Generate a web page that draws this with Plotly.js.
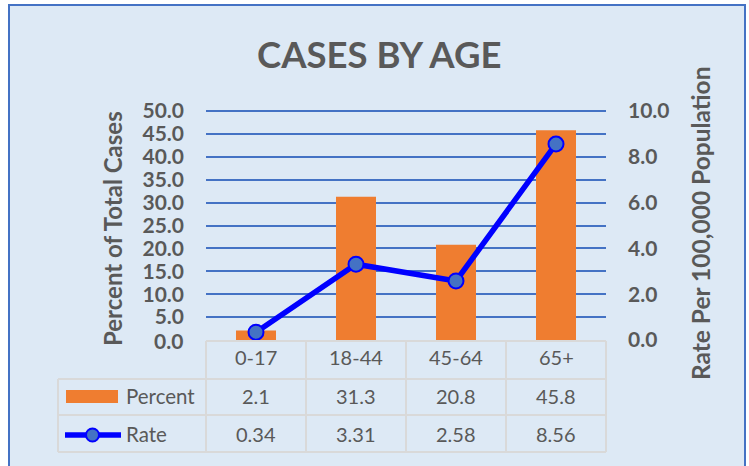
<!DOCTYPE html>
<html><head><meta charset="utf-8">
<script src="https://cdn.plot.ly/plotly-3.0.1.min.js"></script>
<style>html,body{margin:0;padding:0;background:#fff}#c{width:749px;height:466px}</style>
</head><body><div id="c"></div>
<script>
const categories = ['0-17', '18-44', '45-64', '65+'];
const percentValues = [2.1, 31.3, 20.8, 45.8];
const rateValues = [0.34, 3.31, 2.58, 8.56];
const rateLabels = ['0.34', '3.31', '2.58', '8.56'];
const leftTicks = [0, 5, 10, 15, 20, 25, 30, 35, 40, 45, 50];
const rightTicks = [0, 2, 4, 6, 8, 10];

const W = 749, H = 466, L = 206, R = 606, T = 111, B = 340;
const px = x => (x - L) / (R - L);
const py = y => (B - y) / (B - T);
const gray = '#595959', grid = '#d9d9d9';
const font = 'Lato, sans-serif';

const traces = [
  {type: 'bar', x: [0,1,2,3], y: percentValues, width: 0.4, name: 'Percent',
   marker: {color: '#ef7d30', line: {width: 0}}, yaxis: 'y', hoverinfo: 'skip'},
  {type: 'scatter', mode: 'lines+markers', x: [0,1,2,3], y: rateValues, yaxis: 'y2', name: 'Rate',
   line: {color: '#0000ff', width: 5.5},
   marker: {size: 15, color: '#4472c4', line: {color: '#0000ff', width: 2}}, hoverinfo: 'skip'}
];

const shapes = [
  {type: 'rect', xref: 'paper', yref: 'paper', x0: px(9), x1: px(745), y0: py(470), y1: py(5),
   fillcolor: '#dde9f5', line: {color: '#4472c4', width: 2}, layer: 'below'},
  // top gridline (at the plot edge, drawn unclipped)
  {type: 'line', xref: 'paper', yref: 'paper', x0: 0, x1: 1, y0: 1, y1: 1,
   line: {color: '#4472c4', width: 2}, layer: 'below'}
];
function hl(x0, x1, y) { shapes.push({type: 'line', xref: 'paper', yref: 'paper', x0: px(x0), x1: px(x1), y0: py(y), y1: py(y), line: {color: grid, width: 2}}); }
function vl(x, y0, y1) { shapes.push({type: 'line', xref: 'paper', yref: 'paper', x0: px(x), x1: px(x), y0: py(y0), y1: py(y1), line: {color: grid, width: 2}}); }
hl(206, 606, 341); hl(58, 606, 379); hl(58, 606, 415); hl(58, 606, 452);
[206, 306, 406, 506, 606].forEach(x => vl(x, 341, 452));
vl(58, 379, 452);
// legend keys
shapes.push({type: 'rect', xref: 'paper', yref: 'paper', x0: px(66), x1: px(118), y0: py(403), y1: py(390), fillcolor: '#ef7d30', line: {width: 0}});
shapes.push({type: 'line', xref: 'paper', yref: 'paper', x0: px(65), x1: px(121), y0: py(435), y1: py(435), line: {color: '#0000ff', width: 5.5}});
shapes.push({type: 'circle', xref: 'paper', yref: 'paper', x0: px(86), x1: px(99), y0: py(441.5), y1: py(428.5), fillcolor: '#4472c4', line: {color: '#0000ff', width: 2}});

const ann = [];
function txt(x, y, text, size, opts) {
  ann.push(Object.assign({xref: 'paper', yref: 'paper', x: px(x), y: py(y), text: text, showarrow: false,
    font: {family: font, size: size, color: gray}, xanchor: 'center', yanchor: 'middle'}, opts || {}));
}
txt(379, 54, '<b>CASES BY AGE</b>', 36.5);
txt(112, 229, '<b>Percent of Total Cases</b>', 24, {textangle: -90});
txt(700, 224, '<b>Rate Per 100,000 Population</b>', 24.5, {textangle: -90});
categories.forEach((c, i) => {
  txt(256 + 100 * i, 357, c, 20);
  txt(256 + 100 * i, 396, percentValues[i].toFixed(1), 20);
  txt(256 + 100 * i, 434, rateLabels[i], 20);
});
txt(124, 396, 'Percent', 20.5, {xanchor: 'left'});
txt(124, 434, 'Rate', 20.5, {xanchor: 'left'});
txt(185, 340, '<b>0.0</b>', 21, {xanchor: 'right'});

const layout = {
  width: W, height: H, margin: {l: L, r: W - R, t: T, b: H - B, pad: 0},
  paper_bgcolor: '#ffffff', plot_bgcolor: 'rgba(0,0,0,0)', showlegend: false,
  xaxis: {range: [-0.5, 3.5], showticklabels: false, showgrid: false, zeroline: false, fixedrange: true},
  yaxis: {range: [0, 50], tickvals: leftTicks.slice(1), ticktext: leftTicks.slice(1).map(v => '<b>' + v.toFixed(1) + '</b>'),
    showgrid: true, gridcolor: '#4472c4', gridwidth: 2, zeroline: false, ticks: '', ticklabelstandoff: 21,
    tickfont: {family: font, size: 21, color: gray}},
  yaxis2: {range: [0, 10], overlaying: 'y', side: 'right', tickvals: rightTicks, ticktext: rightTicks.map(v => '<b>' + v.toFixed(1) + '</b>'),
    showgrid: false, zeroline: false, ticks: '', ticklabelstandoff: 21, tickfont: {family: font, size: 21, color: gray}},
  shapes: shapes, annotations: ann
};
Plotly.newPlot('c', traces, layout, {displayModeBar: false, staticPlot: true});
</script></body></html>
